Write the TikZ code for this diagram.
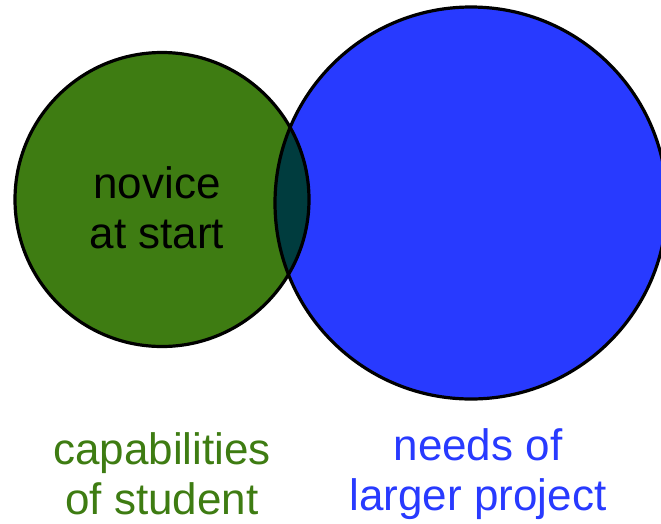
\documentclass[tikz,border=0pt]{standalone}
\usepackage{fontspec}
\setmainfont{Liberation Sans}
\definecolor{skillgreen}{RGB}{62,124,18}
\definecolor{projblue}{RGB}{40,58,255}
\definecolor{overlapteal}{RGB}{0,60,62}
\begin{document}
\begin{tikzpicture}[x=1pt,y=-1pt,
  ring/.style={draw=black,line width=3.2pt},
  lbl/.style={font=\fontsize{44}{50}\selectfont,align=center,inner sep=0pt}]
\clip (0,0) rectangle (661,523);
% student capabilities and project needs
\fill[skillgreen] (162,199.5) circle[radius=147];
\fill[projblue] (471,203) circle[radius=196];
\begin{scope}
  \clip (162,199.5) circle[radius=147];
  \fill[overlapteal] (471,203) circle[radius=196];
\end{scope}
\draw[ring] (162,199.5) circle[radius=147];
\draw[ring] (471,203) circle[radius=196];
% labels
\node[lbl,text=black] (novice) at (157,208) {novice\\at start};
\node[lbl,text=skillgreen] (cap) at (162,474) {capabilities\\of student};
\node[lbl,text=projblue] (needs) at (478,474) {needs of\\larger project};
\end{tikzpicture}
\end{document}
